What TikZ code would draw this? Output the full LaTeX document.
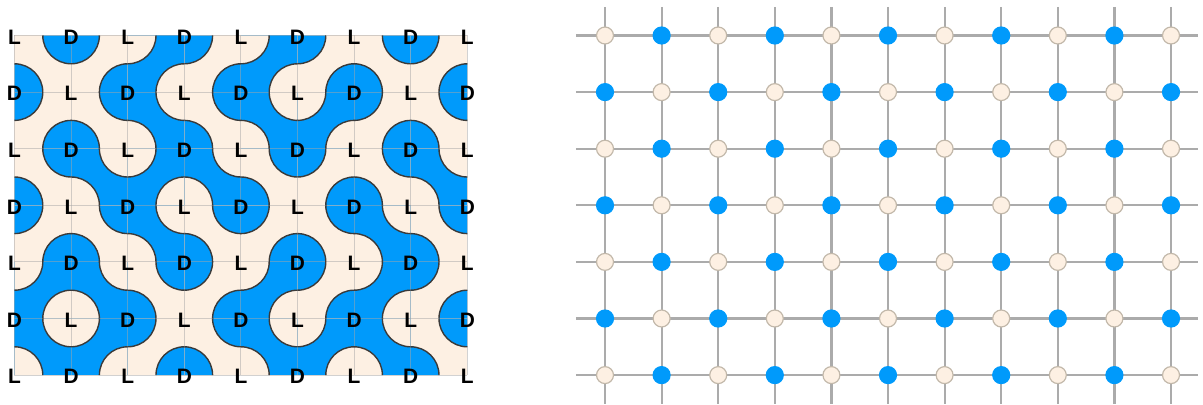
\documentclass[tikz,border=0pt]{standalone}
\usepackage{fontspec}
\setmainfont{Liberation Sans}
\definecolor{TileBlue}{HTML}{009AFB}
\definecolor{TileCream}{HTML}{FDF0E3}
\definecolor{Rim}{HTML}{3A3A3A}
\definecolor{BondGray}{HTML}{ABABAB}
\definecolor{SiteEdge}{HTML}{C2B8AA}
\def\tilerows{{0,0,1,0,1,0,0,0},{0,0,1,0,1,1,0,0},{0,1,1,1,0,0,0,1},{0,0,1,0,0,0,1,0},{1,1,0,0,1,0,1,0},{1,1,0,0,1,1,1,0}}

\begin{document}
\begin{tikzpicture}[x=1cm,y=1cm,
    rim/.style={Rim,line width=0.7pt},
    seam/.style={black!35,line width=0.5pt,opacity=0.5},
    lab/.style={font=\fontsize{10.5}{12}\selectfont\bfseries,inner sep=0pt,text=black},
    bond/.style={BondGray,line width=1.1pt},
    siteL/.style={circle,draw=SiteEdge,fill=TileCream,line width=0.6pt,minimum size=0.3cm,inner sep=0pt},
    siteD/.style={circle,draw=TileBlue,fill=TileBlue,line width=0.6pt,minimum size=0.3cm,inner sep=0pt}]
    \useasboundingbox (-0.256,0.627) rectangle (20.998,-6.511);

    \foreach \row [count=\ry from 0] in \tilerows {
      \foreach \ty [count=\cx from 0] in \row {
        \pgfmathtruncatemacro\sw{mod(\cx+\ry+\ty,2)}
        \ifnum\ty=1 \def\bandc{TileBlue}\def\arcc{TileCream}\else\def\bandc{TileCream}\def\arcc{TileBlue}\fi
        \fill[\bandc] (\cx,-\ry) rectangle ++(1,-1);
        \ifnum\sw=1
          \fill[\arcc] (\cx,-\ry) -- ++(0.5,0) arc[start angle=0,end angle=-90,radius=0.5] -- cycle;
          \fill[\arcc] (\cx+1,-\ry-1) -- ++(-0.5,0) arc[start angle=180,end angle=90,radius=0.5] -- cycle;
        \else
          \fill[\arcc] (\cx+1,-\ry) -- ++(-0.5,0) arc[start angle=180,end angle=270,radius=0.5] -- cycle;
          \fill[\arcc] (\cx,-\ry-1) -- ++(0.5,0) arc[start angle=0,end angle=90,radius=0.5] -- cycle;
        \fi
      }
    }
    \foreach \i in {0,...,8} \draw[seam] (\i,0) -- (\i,-6);
    \foreach \j in {0,...,6} \draw[seam] (0,-\j) -- (8,-\j);
    \foreach \row [count=\ry from 0] in \tilerows {
      \foreach \ty [count=\cx from 0] in \row {
        \pgfmathtruncatemacro\sw{mod(\cx+\ry+\ty,2)}
        \ifnum\sw=1
          \draw[rim] (\cx+0.5,-\ry) arc[start angle=0,end angle=-90,radius=0.5];
          \draw[rim] (\cx+0.5,-\ry-1) arc[start angle=180,end angle=90,radius=0.5];
        \else
          \draw[rim] (\cx+0.5,-\ry) arc[start angle=180,end angle=270,radius=0.5];
          \draw[rim] (\cx+0.5,-\ry-1) arc[start angle=0,end angle=90,radius=0.5];
        \fi
      }
    }
    \foreach \i in {0,...,8} {
      \foreach \j in {0,...,6} {
        \pgfmathtruncatemacro\k{\i+\j}
        \node[lab] (v-\i-\j) at (\i,-\j-0.03) {\ifodd\k D\else L\fi};
      }
    }

    \foreach \j in {0,...,6} {
      \coordinate (w-\j) at (9.92,-\j);
      \coordinate (e-\j) at (20.91,-\j);
      \draw[bond] (w-\j) -- (e-\j);
    }
    \foreach \k in {0,...,10} {
      \coordinate (n-\k) at (10.433+\k,0.504);
      \coordinate (s-\k) at (10.433+\k,-6.511);
      \draw[bond] (n-\k) -- (s-\k);
    }
    \foreach \k in {0,...,10} {
      \foreach \j in {0,...,6} {
        \pgfmathtruncatemacro\m{\k+\j}
        \ifodd\m
          \node[siteD] (p-\k-\j) at (10.433+\k,-\j) {};
        \else
          \node[siteL] (p-\k-\j) at (10.433+\k,-\j) {};
        \fi
      }
    }
  \end{tikzpicture}
\end{document}
